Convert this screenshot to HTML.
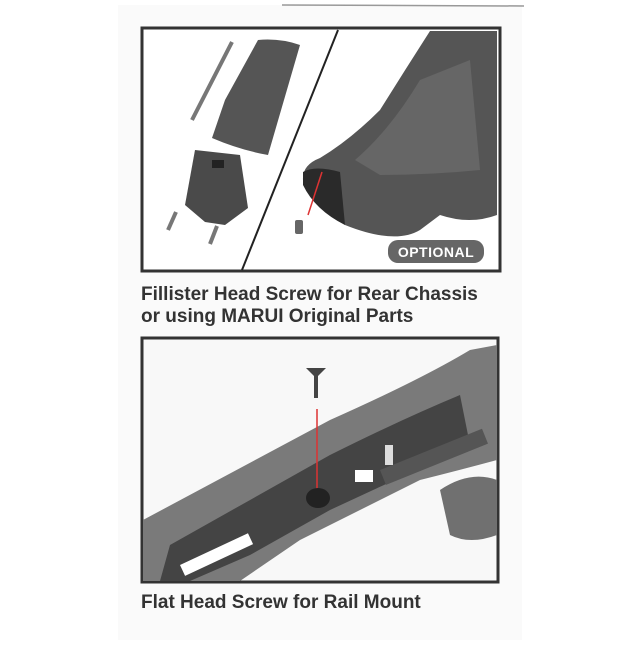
<!DOCTYPE html>
<html><head><style>
body{margin:0;background:#fff;width:640px;height:640px;overflow:hidden;font-family:"Liberation Sans",sans-serif}
</style></head><body>
<svg width="640" height="640" viewBox="0 0 640 640" xmlns="http://www.w3.org/2000/svg">
<rect x="118" y="5" width="404" height="635" fill="#fafafa"/>
<line x1="282" y1="5" x2="524" y2="6" stroke="#999" stroke-width="1.5"/>
<rect x="142" y="28" width="358" height="243" fill="#fff" stroke="#333" stroke-width="3"/>
<path d="M430 31 L497 31 L497 215 Q470 225 440 215 L420 230 Q395 245 345 225 Q310 205 303 180 Q302 165 320 158 Q350 140 380 110 Q405 70 430 31Z" fill="#555"/>
<path d="M303 172 Q315 165 340 172 L345 225 Q315 210 303 185Z" fill="#2a2a2a"/>
<path d="M355 160 Q390 130 420 80 L470 60 L480 170 Q430 175 380 175Z" fill="#666"/>
<line x1="322" y1="172" x2="308" y2="215" stroke="#d33" stroke-width="1.5"/>
<rect x="295" y="220" width="8" height="14" rx="2" fill="#666"/>
<line x1="338" y1="30" x2="242" y2="270" stroke="#222" stroke-width="2"/>
<line x1="232" y1="42" x2="192" y2="120" stroke="#777" stroke-width="4"/>
<path d="M258 40 Q280 38 300 45 L268 155 Q240 150 212 138 L225 100Z" fill="#555"/>
<path d="M195 150 L240 155 L248 208 L225 225 L205 222 L185 205Z" fill="#4a4a4a"/>
<rect x="212" y="160" width="12" height="8" fill="#222"/>
<line x1="176" y1="212" x2="168" y2="230" stroke="#777" stroke-width="4"/>
<line x1="217" y1="226" x2="210" y2="244" stroke="#777" stroke-width="4"/>
<rect x="388" y="240" width="96" height="23" rx="10" fill="#666"/>
<text x="436" y="257" font-size="14" font-weight="bold" fill="#fff" text-anchor="middle" letter-spacing="0.5">OPTIONAL</text>
<text x="141" y="300" font-size="19" font-weight="bold" fill="#333">Fillister Head Screw for Rear Chassis</text>
<text x="141" y="322" font-size="19" font-weight="bold" fill="#333">or using MARUI Original Parts</text>
<rect x="142" y="338" width="356" height="244" fill="#f8f8f8" stroke="#333" stroke-width="3"/>
<path d="M143 520 L330 420 Q420 380 470 350 L497 345 L497 460 Q460 470 420 480 L300 540 L240 581 L143 581Z" fill="#7a7a7a"/>
<path d="M170 545 L330 455 Q400 420 460 395 L470 445 L330 510 L250 555 L190 581 L160 581Z" fill="#444"/>
<path d="M440 490 Q470 470 497 480 L497 535 Q470 545 450 535Z" fill="#707070"/>
<rect x="380" y="470" width="110" height="16" transform="rotate(-22 380 470)" fill="#555"/>
<rect x="180" y="565" width="75" height="12" transform="rotate(-25 180 565)" fill="#fff"/>
<rect x="355" y="470" width="18" height="12" fill="#fff"/>
<rect x="385" y="445" width="8" height="20" fill="#ddd"/>
<path d="M306 368 L326 368 L318 376 L318 398 L314 398 L314 376Z" fill="#444"/>
<line x1="317" y1="409" x2="317" y2="492" stroke="#d33" stroke-width="1.5"/>
<ellipse cx="318" cy="498" rx="12" ry="10" fill="#222"/>
<text x="141" y="608" font-size="19" font-weight="bold" fill="#333">Flat Head Screw for Rail Mount</text>
</svg>
</body></html>
